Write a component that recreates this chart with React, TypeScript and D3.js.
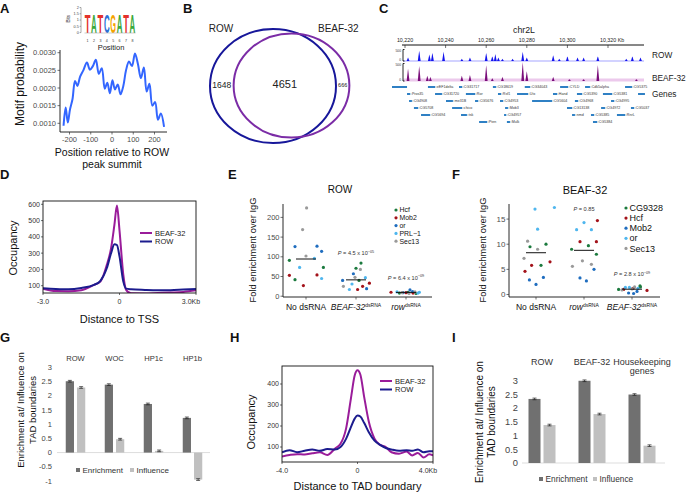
import React from 'react';
import * as d3 from 'd3';

const FONT = "'Liberation Sans', Arial, Helvetica, sans-serif";
const GREY = '#4d4d4d';
const NAVY = '#1c1c8e';
const MAGENTA = '#9a1c9a';

// ---------- A: ROW motif ----------
const logoLetters = ['T', 'A', 'T', 'C', 'G', 'A', 'T', 'A'];
const logoBits = [1.5, 1.55, 1.55, 1.55, 1.55, 1.55, 1.55, 1.55];
const baseColor: Record<string, string> = { A: '#3aa93a', C: '#2b6fd6', G: '#f5a300', T: '#e4312b' };
const glyphEm: Record<string, number> = { A: 0.722, C: 0.722, G: 0.778, T: 0.611 };
const logoTicks = [0, 0.5, 1, 1.5, 2];
const motifPos = [-228, -218, -208, -198, -186, -174, -163, -150, -135, -118, -104, -90, -76, -62, -48, -34, -22, -10, 2, 14, 27, 40, 53, 66, 80, 94, 108, 122, 136, 150, 163, 176, 190, 203, 216, 230, 245];
const motifProb = [0.00093, 0.00145, 0.00102, 0.00138, 0.00168, 0.0022, 0.00206, 0.00232, 0.0025, 0.00272, 0.00252, 0.00262, 0.0028, 0.0024, 0.00256, 0.00198, 0.00215, 0.00185, 0.00222, 0.00196, 0.0021, 0.00182, 0.00205, 0.0025, 0.00275, 0.00262, 0.00298, 0.00268, 0.00228, 0.00258, 0.0019, 0.00212, 0.0015, 0.0016, 0.0011, 0.00128, 0.0009];
const motifXTicks = [-200, -100, 0, 100, 200];
const motifYTicks = [0.001, 0.0015, 0.002, 0.0025, 0.003];

// ---------- B: overlap ----------
const vennNames = ['ROW', 'BEAF-32'];
const vennOnlyRow = 1648;
const vennShared = 4651;
const vennOnlyBeaf = 666;

// ---------- C: browser ----------
const chrTicks = [10220, 10240, 10260, 10280, 10300, 10320];
const rowPeakKb = [10221.5, 10227, 10232, 10233.5, 10239, 10248, 10252, 10260, 10263, 10264.5, 10266, 10268, 10273, 10278, 10280, 10293, 10296, 10300, 10305, 10308, 10315, 10329, 10332, 10336];
const rowPeakVal = [150, 450, 280, 350, 400, 100, 150, 350, 200, 300, 150, 100, 100, 400, 150, 250, 100, 200, 150, 150, 200, 100, 200, 150];
const beafPeakKb = [10221.5, 10227, 10231, 10232.5, 10248, 10252, 10260, 10263, 10268, 10278, 10280, 10293, 10301, 10308, 10315, 10334];
const beafPeakVal = [350, 430, 150, 120, 150, 170, 450, 80, 120, 540, 280, 120, 50, 50, 450, 50];
// name, start kb, end kb, row
const genes: [string, number, number, number][] = [
  ['', 10213.6, 10221, 0], ['eEF1delta', 10231.3, 10234.8, 0], ['CG31717', 10246.6, 10248.1, 0], ['CG18619', 10263.3, 10264.8, 0],
  ['CG34043', 10279, 10281.6, 0], ['CYLD', 10296.4, 10300.3, 0], ['Cdk5alpha', 10308.7, 10311.1, 0], ['CG5375', 10328.4, 10331.8, 0],
  ['Pros35', 10221, 10222.5, 1], ['CG31720', 10234.8, 10238.2, 1], ['Ror', 10250, 10254.5, 1], ['Rsf1', 10265.8, 10267.3, 1],
  ['Utx', 10275.2, 10280.6, 1], ['Hand', 10292.9, 10294.9, 1], ['CG5390', 10304.7, 10307.2, 1], ['CG5381', 10317.5, 10322, 1], ['', 10334.8, 10338.2, 1],
  ['CG4908', 10222, 10223.4, 2], ['me31B', 10240.2, 10243.6, 2], ['CG5676', 10254.5, 10256, 2], ['CG4953', 10266.8, 10268.3, 2],
  ['CG5604', 10282.6, 10292.4, 2], ['CG4968', 10303.7, 10305.2, 2], ['CG4995', 10321.5, 10323, 2],
  ['CG5708', 10224.4, 10226.4, 3], ['chico', 10243.2, 10248.1, 3], ['Mob3', 10269.3, 10270.7, 3], ['CG13138', 10299.8, 10302.3, 3],
  ['CG4972', 10316.6, 10318.5, 3], ['CG5037', 10331.3, 10332.8, 3],
  ['CG5694', 10227.9, 10232.3, 4], ['tsk', 10247.6, 10250.5, 4], ['CG4957', 10268.8, 10269.8, 4], ['nmd', 10302.3, 10303.7, 4],
  ['CG5385', 10311.6, 10313.1, 4], ['RnrL', 10324.4, 10328.4, 4],
  ['Pten', 10256.5, 10260.4, 5], ['Mulk', 10270.2, 10271.7, 5], ['CG5384', 10312.6, 10314.6, 5],
];

// ---------- D: TSS profile ----------
const tssX = [-3, -2.5, -2, -1.5, -1, -0.75, -0.5, -0.33, -0.2, -0.1, 0, 0.15, 0.26, 0.45, 1, 1.5, 2, 2.5, 3];
const tssRow = [84, 80, 78, 86, 105, 130, 207, 300, 355, 350, 280, 125, 82, 78, 74, 72, 72, 76, 80];
const tssBeaf = [82, 67, 66, 72, 105, 125, 227, 330, 473, 592, 440, 166, 74, 53, 52, 55, 58, 62, 72];
const tssYTicks = [100, 200, 300, 400, 500, 600];
const tssXTicks = [-3, 0, 3];
const tssXLabels = ['-3.0', '0', '3.0Kb'];

// ---------- E / F: ChIP-qPCR ----------
const dotColors = ['#1b7a3e', '#a3121a', '#1f6dbf', '#4fb6ee', '#9a9a9a'];
const eCats = ['No dsRNA', 'BEAF-32', 'row'];
const eCatSup = ['', 'dsRNA', 'dsRNA'];
const eGenes = ['Hcf', 'Mob2', 'or', 'PRL\u22121', 'Sec13'];
const eValues = [
  [[91, 73, 42], [53, 54, 27], [126, 127, 114], [96, 73, 45], [224, 169, 102]],
  [[84, 71, 40], [33, 25, 17], [57, 40, 19], [47, 31, 17], [68, 48, 25]],
  [[8, 10, 7], [10, 9, 8], [16, 12, 9], [10, 11, 8], [9, 7, 11]],
];
const eJitter = [
  [[-0.83, 0.87, -0.55], [-0.83, 0.55, -0.13], [-0.55, 0.55, 0.78], [0.42, -0.32, 0.78], [0.03, -0.17, 0.0]],
  [[0.25, 0.0, 0.15], [0.67, 0.33, 0.08], [-0.13, -0.67, 0.53], [0.47, -0.2, -0.33], [0.22, -0.05, -0.63]],
  [[-0.33, 0.1, 0.5], [-0.75, 0.0, 0.35], [0.2, 0.33, -0.15], [0.67, -0.45, 0.6], [-0.2, 0.15, 0.45]],
];
const ePText = ['', '4.5 x 10', '6.4 x 10'];
const ePExp = ['', '\u221205', '\u221209'];
const ePAt = [0, 104, 42];
const eYTicks = [0, 50, 100, 150, 200];

const fCats = ['No dsRNA', 'row', 'BEAF-32'];
const fCatSup = ['', 'dsRNA', 'dsRNA'];
const fGenes = ['CG9328', 'Hcf', 'Mob2', 'or', 'Sec13'];
const fValues = [
  [[9.5, 10.0, 5.8], [5.8, 6.5, 4.6], [2.9, 3.4, 2.0], [17.0, 17.3, 13.0], [10.6, 9.0, 7.2]],
  [[9.0, 9.7, 8.0], [14.7, 10.5, 10.5], [5.0, 3.3, 2.7], [14.3, 12.9, 12.9], [6.7, 6.0, 5.6]],
  [[1.0, 1.5, 1.7], [1.0, 0.8, 1.2], [0.3, 0.2, 0.6], [1.4, 1.4, 1.2], [1.5, 1.1, 0.9]],
];
const fJitter = [
  [[-0.3, 0.5, 0.25], [-0.22, 0.7, -0.55], [-0.33, 0.37, 0.0], [-0.05, 0.92, 0.08], [-0.42, 0.08, -0.6]],
  [[-0.62, 0.22, 0.62], [0.67, -0.2, 0.62], [0.5, -0.2, 0.12], [0.0, -0.37, 0.37], [-0.08, 0.37, -0.58]],
  [[-0.67, 0.42, 0.4], [-0.42, 0.75, 0.05], [-0.17, 0.08, 0.25], [-0.33, -0.13, 0.3], [0.13, 0.0, -0.5]],
];
const fPText = ['', '0.85', '2.8 x 10'];
const fPExp = ['', '', '\u221209'];
const fPAt = [0, 16.6, 3.6];
const fYTicks = [0, 5, 10, 15];

// ---------- G / I: TAD boundaries ----------
const barSeries = ['Enrichment', 'Influence'];
const gCats = ['ROW', 'WOC', 'HP1c', 'HP1b'];
const gEnrichment = [2.51, 2.39, 1.71, 1.22];
const gInfluence = [2.29, 0.47, 0.06, -0.95];
const gErr = [0.03, 0.03, 0.03, 0.03];
const gYTicks = [-1, -0.5, 0, 0.5, 1, 1.5, 2, 2.5, 3];
const iCats = ['ROW', 'BEAF-32', 'Housekeeping\ngenes'];
const iEnrichment = [2.33, 2.99, 2.49];
const iInfluence = [1.38, 1.78, 0.63];
const iErr = [0.03, 0.03, 0.03];
const iYTicks = [0, 0.5, 1, 1.5, 2, 2.5, 3];

// ---------- H: TAD boundary profile ----------
const tadX = [-4, -3.6, -3.2, -2.8, -2.4, -2.0, -1.6, -1.2, -0.9, -0.6, -0.35, -0.15, 0, 0.15, 0.35, 0.6, 0.9, 1.2, 1.5, 1.8, 2.2, 2.6, 2.9, 3.2, 3.5, 3.8, 4.0];
const tadBeaf = [55, 62, 66, 64, 70, 75, 62, 92, 115, 190, 330, 440, 465, 445, 340, 220, 140, 110, 100, 75, 68, 78, 60, 72, 50, 65, 60];
const tadRow = [75, 85, 75, 82, 88, 82, 90, 88, 100, 140, 195, 235, 250, 245, 215, 170, 130, 110, 95, 88, 82, 85, 82, 88, 75, 80, 80];
const tadYTicks = [100, 200, 300, 400];
const tadXTicks = [-4, 0, 4];
const tadXLabels = ['-4.0', '0', '4.0Kb'];

const fmtMotif = d3.format('.4f');

function PanelA() {
  const lx = d3.scaleBand<number>().domain(d3.range(8)).range([84.5, 135.5]).paddingInner(0.04);
  const ly = d3.scaleLinear().domain([0, 2]).range([32.6, 7.5]);
  const x = d3.scaleLinear().domain([-200, 200]).range([69.5, 154.5]);
  const y = d3.scaleLinear().domain([0.001, 0.003]).range([123.3, 52.7]);
  const line = d3.line<number>().x((_, i) => x(motifPos[i])).y((d) => y(d)).curve(d3.curveCatmullRom.alpha(0.5));
  const bw = lx.bandwidth();
  return (
    <g>
      <line x1={81} x2={81} y1={ly(2)} y2={ly(0)} stroke="#555" strokeWidth={0.5} />
      {logoTicks.map((t) => (
        <g key={t}>
          <line x1={79.6} x2={81} y1={ly(t)} y2={ly(t)} stroke="#555" strokeWidth={0.5} />
          <text x={78.8} y={ly(t)} dy="0.35em" fontSize={3.8} textAnchor="end" fill="#444">{t}</text>
        </g>
      ))}
      <text transform={`translate(70,${ly(1.1)}) rotate(-90)`} fontSize={4.6} textAnchor="middle" fill="#333">Bits</text>
      {logoLetters.map((l, i) => {
        const h = ly(0) - ly(logoBits[i]);
        const sx = (bw * 0.93) / (10 * glyphEm[l]);
        return (
          <text key={i} transform={`translate(${lx(i)! + bw / 2},${ly(0)}) scale(${sx},${h / 7.29})`}
            fontSize={10} fontWeight="bold" textAnchor="middle" fill={baseColor[l]}>{l}</text>
        );
      })}
      <line x1={lx(0)!} x2={lx(7)! + bw} y1={ly(0) + 0.4} y2={ly(0) + 0.4} stroke="#999" strokeWidth={0.5} />
      {logoLetters.map((_, i) => (
        <text key={i} x={lx(i)! + bw / 2} y={42} fontSize={3.6} textAnchor="middle" fill="#333">{i + 1}</text>
      ))}
      <text x={111} y={49.5} fontSize={7.5} textAnchor="middle" fill="#222">Position</text>

      <line x1={60} x2={60} y1={50} y2={132} stroke="#111" strokeWidth={0.9} />
      <line x1={60} x2={167} y1={132} y2={132} stroke="#111" strokeWidth={0.9} />
      {motifYTicks.map((t) => (
        <g key={t}>
          <line x1={57.5} x2={60} y1={y(t)} y2={y(t)} stroke="#333" strokeWidth={0.7} />
          <text x={56} y={y(t)} dy="0.35em" fontSize={7.5} textAnchor="end" fill={GREY}>{fmtMotif(t)}</text>
        </g>
      ))}
      {motifXTicks.map((t) => (
        <g key={t}>
          <line x1={x(t)} x2={x(t)} y1={132} y2={134.5} stroke="#333" strokeWidth={0.7} />
          <text x={x(t)} y={142} fontSize={7.5} textAnchor="middle" fill={GREY}>{t}</text>
        </g>
      ))}
      <path d={line(motifProb) || ''} fill="none" stroke="#3366ff" strokeWidth={2} />
      <text x={112} y={156} fontSize={10.5} textAnchor="middle" fill="#111">Position relative to ROW</text>
      <text x={112} y={167.5} fontSize={10.5} textAnchor="middle" fill="#111">peak summit</text>
      <text transform="translate(23.5,84) rotate(-90)" fontSize={12} textAnchor="middle" fill="#111">Motif probability</text>
    </g>
  );
}

function PanelB() {
  const r = d3.scaleSqrt().domain([0, vennOnlyRow + vennShared]).range([0, 63]);
  const rRow = r(vennOnlyRow + vennShared);
  const rBeaf = r(vennShared + vennOnlyBeaf);
  const cRow = 273;
  const cBeaf = 291.5;
  const cy = 86;
  const rowL = cRow - rRow, rowR = cRow + rRow, beafL = cBeaf - rBeaf, beafR = cBeaf + rBeaf;
  return (
    <g>
      <ellipse cx={cRow} cy={cy} rx={rRow} ry={rRow * 0.905} fill="none" stroke="#17179a" strokeWidth={2} />
      <ellipse cx={cBeaf} cy={cy - 0.5} rx={rBeaf} ry={rBeaf * 0.9} fill="none" stroke="#7b2ca6" strokeWidth={2} />
      <text x={221} y={32} fontSize={10} textAnchor="middle" fill="#222">{vennNames[0]}</text>
      <text x={318} y={32} fontSize={10} fill="#222">{vennNames[1]}</text>
      <text x={(rowL + beafL) / 2} y={87.5} fontSize={8.5} textAnchor="middle" fill="#222">{vennOnlyRow}</text>
      <text x={(beafL + rowR) / 2} y={88} fontSize={11} textAnchor="middle" fill="#222">{vennShared}</text>
      <text x={(rowR + beafR) / 2} y={86.5} fontSize={5.5} textAnchor="middle" fill="#222">{vennOnlyBeaf}</text>
    </g>
  );
}

function PanelC() {
  const x = d3.scaleLinear().domain([10220, 10320]).range([405, 608]);
  const yRow = d3.scaleLinear().domain([0, 500]).range([61, 49.5]);
  const yBeaf = d3.scaleLinear().domain([0, 500]).range([81, 63.5]);
  const gy = d3.scaleLinear().domain([0, 5]).range([87, 122]);
  const peak = (ys: d3.ScaleLinear<number, number>) =>
    d3.area<[number, number]>().x((d) => x(d[0])).y0(ys(0)).y1((d) => ys(d[1]));
  const tri = (kb: number, v: number): [number, number][] => [[kb - 0.7, 0], [kb - 0.15, v * 0.8], [kb, v], [kb + 0.15, v * 0.8], [kb + 0.7, 0]];
  const fmt = d3.format(',');
  return (
    <g>
      <text x={524} y={33} fontSize={8.8} textAnchor="middle" fill="#222">chr2L</text>
      <line x1={402} x2={644} y1={45} y2={45} stroke="#111" strokeWidth={1} />
      {chrTicks.map((t, i) => (
        <g key={t}>
          <line x1={x(t)} x2={x(t)} y1={45} y2={48} stroke="#111" strokeWidth={0.6} />
          {i < chrTicks.length - 1 ? (
            <text x={x(t)} y={42} fontSize={5.3} textAnchor="middle" fill="#222">{fmt(t)}</text>
          ) : (
            <text x={x(t) - 8} y={42} fontSize={5.3} fill="#222">{fmt(t)} Kb</text>
          )}
        </g>
      ))}
      {/* ROW track */}
      <line x1={403} x2={644} y1={61} y2={61} stroke="#6a6aff" strokeWidth={0.6} />
      {rowPeakKb.map((kb, i) => (
        <path key={i} d={peak(yRow)(tri(kb, rowPeakVal[i])) || ''} fill="#1414ee" />
      ))}
      <path d={`M404.5,${yRow(500)}h-1.5v${yRow(0) - yRow(500)}h1.5`} fill="none" stroke="#111" strokeWidth={0.9} />
      <text x={401} y={yRow(500) + 2} fontSize={3.3} textAnchor="end" fill="#333">500</text>
      <text x={401} y={yRow(0)} fontSize={3.3} textAnchor="end" fill="#333">0</text>
      <text x={652} y={57.5} fontSize={8.3} fill="#222">ROW</text>
      {/* BEAF-32 track */}
      <rect x={403} y={78.5} width={241} height={3} fill="#ecc9ec" />
      {beafPeakKb.map((kb, i) => (
        <path key={i} d={peak(yBeaf)(tri(kb, beafPeakVal[i])) || ''} fill="#7a0d7a" />
      ))}
      <path d={`M404.5,${yBeaf(500)}h-1.5v${yBeaf(0) - yBeaf(500)}h1.5`} fill="none" stroke="#111" strokeWidth={0.9} />
      <text x={401} y={yBeaf(500) + 2} fontSize={3.3} textAnchor="end" fill="#333">500</text>
      <text x={401} y={yBeaf(0)} fontSize={3.3} textAnchor="end" fill="#333">0</text>
      <text x={652} y={80.5} fontSize={8.3} fill="#222">BEAF-32</text>
      {/* genes */}
      {genes.map(([name, s, e, row], i) => {
        const x0 = x(s);
        const x1 = Math.max(x(e), x0 + 2);
        return (
          <g key={i}>
            <rect x={x0} y={gy(row) - 1} width={x1 - x0} height={2} fill="#2f80c4" />
            {name && <line x1={x1} x2={x1 + 1.6} y1={gy(row)} y2={gy(row)} stroke="#2f80c4" strokeWidth={0.5} />}
            {name && <text x={x1 + 1.8} y={gy(row)} dy="0.35em" fontSize={3.6} fill="#333">{name}</text>}
          </g>
        );
      })}
      <text x={652} y={97} fontSize={8.3} fill="#222">Genes</text>
    </g>
  );
}

type OccProps = {
  xs: number[]; beaf: number[]; row: number[]; xDom: [number, number];
  x0: number; x1: number; y0: number; y1: number; yDom: [number, number]; yRng: [number, number];
  yTicks: number[]; xTicks: number[]; xLabels: string[]; xTitle: string; xTitleY: number;
  yTitleX: number; yTitleY: number; legX: number; legY: number; id: string; tickLabelY: number;
};

function OccupancyPanel(p: OccProps) {
  const x = d3.scaleLinear().domain(p.xDom).range([p.x0, p.x1]);
  const y = d3.scaleLinear().domain(p.yDom).range(p.yRng);
  const mk = (vals: number[]) => d3.line<number>().x((_, i) => x(p.xs[i])).y((v) => y(v)).curve(d3.curveMonotoneX)(vals) || '';
  return (
    <g>
      <clipPath id={p.id}><rect x={p.x0} y={p.y0} width={p.x1 - p.x0} height={p.y1 - p.y0} /></clipPath>
      <g clipPath={`url(#${p.id})`}>
        <path d={mk(p.beaf)} fill="none" stroke={MAGENTA} strokeWidth={2} />
        <path d={mk(p.row)} fill="none" stroke={NAVY} strokeWidth={2} />
      </g>
      <rect x={p.x0} y={p.y0} width={p.x1 - p.x0} height={p.y1 - p.y0} fill="none" stroke="#111" strokeWidth={0.9} />
      {p.yTicks.map((t) => (
        <g key={t}>
          <line x1={p.x0 - 2} x2={p.x0} y1={y(t)} y2={y(t)} stroke="#111" strokeWidth={0.6} />
          <text x={p.x0 - 3} y={y(t)} dy="0.35em" fontSize={7} textAnchor="end" fill="#333">{t}</text>
        </g>
      ))}
      {p.xTicks.map((t, i) => (
        <g key={t}>
          <line x1={x(t)} x2={x(t)} y1={p.y1} y2={p.y1 + 2} stroke="#111" strokeWidth={0.6} />
          <text x={x(t) + (i === p.xTicks.length - 1 ? -5 : 0)} y={p.tickLabelY} fontSize={7} textAnchor="middle" fill="#333">{p.xLabels[i]}</text>
        </g>
      ))}
      <line x1={p.legX} x2={p.legX + 12} y1={p.legY} y2={p.legY} stroke={MAGENTA} strokeWidth={2} />
      <line x1={p.legX} x2={p.legX + 12} y1={p.legY + 8.5} y2={p.legY + 8.5} stroke={NAVY} strokeWidth={2} />
      <text x={p.legX + 15} y={p.legY} dy="0.35em" fontSize={7.5} fill="#222">BEAF-32</text>
      <text x={p.legX + 15} y={p.legY + 8.5} dy="0.35em" fontSize={7.5} fill="#222">ROW</text>
      <text x={(p.x0 + p.x1) / 2} y={p.xTitleY} fontSize={11} textAnchor="middle" fill="#111">{p.xTitle}</text>
      <text transform={`translate(${p.yTitleX},${p.yTitleY}) rotate(-90)`} fontSize={11} textAnchor="middle" fill="#111">Occupancy</text>
    </g>
  );
}

type DotProps = {
  cats: string[]; catSup: string[]; genes: string[]; values: number[][][]; jitter: number[][][];
  pText: string[]; pExp: string[]; pAt: number[]; yDom: [number, number]; yTicks: number[];
  axX: number; axEnd: number; ptRange: [number, number]; top: number; bottom: number;
  title: string; titleX: number; titleY: number; titleSize: number;
  legX: number; legY: number; legStep: number; legSize: number; yTitleX: number; tickSize: number;
};

function DotPanel(p: DotProps) {
  const xp = d3.scalePoint<number>().domain(d3.range(p.cats.length)).range(p.ptRange);
  const y = d3.scaleLinear().domain(p.yDom).range([p.bottom, p.top]);
  const jx = d3.scaleLinear().domain([-1, 1]).range([-20, 20]);
  return (
    <g>
      <text x={p.titleX} y={p.titleY} fontSize={p.titleSize} textAnchor="middle" fill="#111">{p.title}</text>
      <line x1={p.axX} x2={p.axX} y1={p.top} y2={p.bottom} stroke="#111" strokeWidth={0.9} />
      <line x1={p.axX} x2={p.axEnd} y1={p.bottom} y2={p.bottom} stroke="#111" strokeWidth={0.9} />
      {p.yTicks.map((t) => (
        <g key={t}>
          <line x1={p.axX - 2.5} x2={p.axX} y1={y(t)} y2={y(t)} stroke="#333" strokeWidth={0.7} />
          <text x={p.axX - 3.5} y={y(t)} dy="0.35em" fontSize={p.tickSize} textAnchor="end" fill={GREY}>{t}</text>
        </g>
      ))}
      {p.cats.map((c, ci) => {
        const cx = xp(ci)!;
        const all = p.values[ci].flat();
        const mean = d3.mean(all)!;
        return (
          <g key={ci}>
            <line x1={cx} x2={cx} y1={p.bottom} y2={p.bottom + 2.5} stroke="#333" strokeWidth={0.7} />
            <text x={cx} y={310} fontSize={8.5} textAnchor="middle" fill="#111">
              <tspan fontStyle={p.catSup[ci] ? 'italic' : 'normal'}>{c}</tspan>
              {p.catSup[ci] && <tspan fontSize={5} dy={-3.5}>{p.catSup[ci]}</tspan>}
            </text>
            {p.values[ci].map((reps, gi) => reps.map((v, ri) => (
              <circle key={`${gi}-${ri}`} cx={cx + jx(p.jitter[ci][gi][ri])} cy={y(v)} r={1.6} fill={dotColors[gi]} />
            )))}
            <line x1={cx - 10} x2={cx + 10} y1={y(mean)} y2={y(mean)} stroke="#111" strokeWidth={1} />
            {p.pText[ci] && (
              <text x={cx} y={y(p.pAt[ci])} fontSize={5.6} textAnchor="middle" fill="#333">
                <tspan fontStyle="italic">P</tspan> = {p.pText[ci]}
                {p.pExp[ci] && <tspan fontSize={3.8} dy={-2.2}>{p.pExp[ci]}</tspan>}
              </text>
            )}
          </g>
        );
      })}
      {p.genes.map((g, gi) => (
        <g key={g}>
          <circle cx={p.legX} cy={p.legY + gi * p.legStep} r={1.6} fill={dotColors[gi]} />
          <text x={p.legX + 3.5} y={p.legY + gi * p.legStep} dy="0.35em" fontSize={p.legSize} fill="#111">{g}</text>
        </g>
      ))}
      <text transform={`translate(${p.yTitleX},250) rotate(-90)`} fontSize={9.3} textAnchor="middle" fill="#111">Fold enrichment over IgG</text>
    </g>
  );
}

type BarProps = {
  cats: string[]; enr: number[]; inf: number[]; err: number[]; yDom: [number, number]; yRng: [number, number];
  yTicks: number[]; xRange: [number, number]; pair: [number, number]; pad: number;
  tickX: number; tickSize: number; catY: number; catSize: number; zero: [number, number];
  legY: number; legX: [number, number]; legSize: number; ylX: number; ylY: number; ylSize: number; ylGap: number;
};

function BarPanel(p: BarProps) {
  const x0 = d3.scaleBand<number>().domain(d3.range(p.cats.length)).range(p.xRange);
  const bw0 = x0.bandwidth();
  const x1 = d3.scaleBand<string>().domain(barSeries).range([bw0 * p.pair[0], bw0 * p.pair[1]]).paddingInner(p.pad);
  const y = d3.scaleLinear().domain(p.yDom).range(p.yRng);
  const colors = ['#707070', '#c0c0c0'];
  return (
    <g>
      {p.yTicks.map((t) => (
        <text key={t} x={p.tickX} y={y(t)} dy="0.35em" fontSize={p.tickSize} textAnchor="end" fill="#444">{String(t)}</text>
      ))}
      <line x1={p.zero[0]} x2={p.zero[1]} y1={y(0)} y2={y(0)} stroke="#d4d4d4" strokeWidth={0.8} />
      {p.cats.map((c, ci) => {
        const cx = x0(ci)! + bw0 / 2;
        return (
          <g key={ci}>
            {c.split('\n').map((ln, li) => (
              <text key={li} x={cx} y={p.catY + li * p.catSize * 1.05} fontSize={p.catSize} textAnchor="middle" fill="#333">{ln}</text>
            ))}
            {[p.enr[ci], p.inf[ci]].map((v, si) => {
              const bx = x0(ci)! + x1(barSeries[si])!;
              const w = x1.bandwidth();
              const ex = bx + w / 2;
              return (
                <g key={si}>
                  <rect x={bx} y={Math.min(y(v), y(0))} width={w} height={Math.abs(y(v) - y(0))} fill={colors[si]} />
                  <line x1={ex} x2={ex} y1={y(v - p.err[ci])} y2={y(v + p.err[ci])} stroke="#222" strokeWidth={0.7} />
                  <line x1={ex - 2} x2={ex + 2} y1={y(v + p.err[ci])} y2={y(v + p.err[ci])} stroke="#222" strokeWidth={0.7} />
                  <line x1={ex - 2} x2={ex + 2} y1={y(v - p.err[ci])} y2={y(v - p.err[ci])} stroke="#222" strokeWidth={0.7} />
                </g>
              );
            })}
          </g>
        );
      })}
      {barSeries.map((s, si) => (
        <g key={s}>
          <rect x={p.legX[si]} y={p.legY - 2} width={4} height={4} fill={colors[si]} />
          <text x={p.legX[si] + 6.5} y={p.legY} dy="0.35em" fontSize={p.legSize} fill="#333">{s}</text>
        </g>
      ))}
      <text transform={`translate(${p.ylX},${p.ylY}) rotate(-90)`} fontSize={p.ylSize} textAnchor="middle" fill="#111">Enrichment at/ Influence on</text>
      <text transform={`translate(${p.ylX + p.ylGap},${p.ylY}) rotate(-90)`} fontSize={p.ylSize} textAnchor="middle" fill="#111">TAD boundaries</text>
    </g>
  );
}

const panelLetters: [string, number, number][] = [
  ['A', 0, 12.5], ['B', 183, 12.5], ['C', 379, 12.5], ['D', 0, 179], ['E', 228, 179], ['F', 452, 179],
  ['G', 0, 342], ['H', 230, 342], ['I', 452, 342],
];

export default function App() {
  return (
    <svg width={686} height={494} viewBox="0 0 686 494" fontFamily={FONT}
      style={{ position: 'absolute', left: 0, top: 0, background: '#fff' }}>
      <rect width={686} height={494} fill="#fff" />
      <PanelA />
      <PanelB />
      <PanelC />
      <OccupancyPanel id="clipD" xs={tssX} beaf={tssBeaf} row={tssRow} xDom={[-3, 3]} x0={43} x1={196} y0={201} y1={293}
        yDom={[100, 600]} yRng={[285.7, 204.3]} yTicks={tssYTicks} xTicks={tssXTicks} xLabels={tssXLabels}
        tickLabelY={303.5} xTitle="Distance to TSS" xTitleY={323} yTitleX={17} yTitleY={248} legX={140} legY={233} />
      <DotPanel cats={eCats} catSup={eCatSup} genes={eGenes} values={eValues} jitter={eJitter}
        pText={ePText} pExp={ePExp} pAt={ePAt} yDom={[-2, 234]} yTicks={eYTicks}
        axX={283} axEnd={432} ptRange={[306, 406]} top={204} bottom={297}
        title="ROW" titleX={340} titleY={193} titleSize={10} legX={396} legY={210} legStep={7.8} legSize={6.9}
        yTitleX={256} tickSize={7.5} />
      <DotPanel cats={fCats} catSup={fCatSup} genes={fGenes} values={fValues} jitter={fJitter}
        pText={fPText} pExp={fPExp} pAt={fPAt} yDom={[-0.5, 18]} yTicks={fYTicks}
        axX={509} axEnd={660} ptRange={[536, 632]} top={204} bottom={297}
        title="BEAF-32" titleX={585} titleY={194} titleSize={11} legX={626} legY={208} legStep={10.1} legSize={9}
        yTitleX={486} tickSize={8} />
      <BarPanel cats={gCats} enr={gEnrichment} inf={gInfluence} err={gErr} yDom={[-1, 3]} yRng={[481, 367.3]}
        yTicks={gYTicks} xRange={[56, 212]} pair={[0.25, 0.75]} pad={0.27} tickX={52} tickSize={7.5}
        catY={361} catSize={7.6} zero={[57, 210]} legY={470} legX={[76, 130]} legSize={8}
        ylX={24} ylY={410} ylSize={9.5} ylGap={12} />
      <BarPanel cats={iCats} enr={iEnrichment} inf={iInfluence} err={iErr} yDom={[0, 3]} yRng={[463, 380.5]}
        yTicks={iYTicks} xRange={[517, 667]} pair={[0.23, 0.77]} pad={0.2} tickX={518} tickSize={9.3}
        catY={365} catSize={9} zero={[522, 665]} legY={479} legX={[539, 593]} legSize={8.3}
        ylX={483} ylY={422} ylSize={10} ylGap={12} />
      <OccupancyPanel id="clipH" xs={tadX} beaf={tadBeaf} row={tadRow} xDom={[-4, 4]} x0={282} x1={433} y0={366} y1={462}
        yDom={[100, 400]} yRng={[447, 384]} yTicks={tadYTicks} xTicks={tadXTicks} xLabels={tadXLabels}
        tickLabelY={473} xTitle="Distance to TAD boundary" xTitleY={490} yTitleX={255} yTitleY={422} legX={380} legY={381} />
      {panelLetters.map(([l, lx, ly]) => (
        <text key={l} x={lx} y={ly} fontSize={13} fontWeight="bold" fill="#111">{l}</text>
      ))}
    </svg>
  );
}
